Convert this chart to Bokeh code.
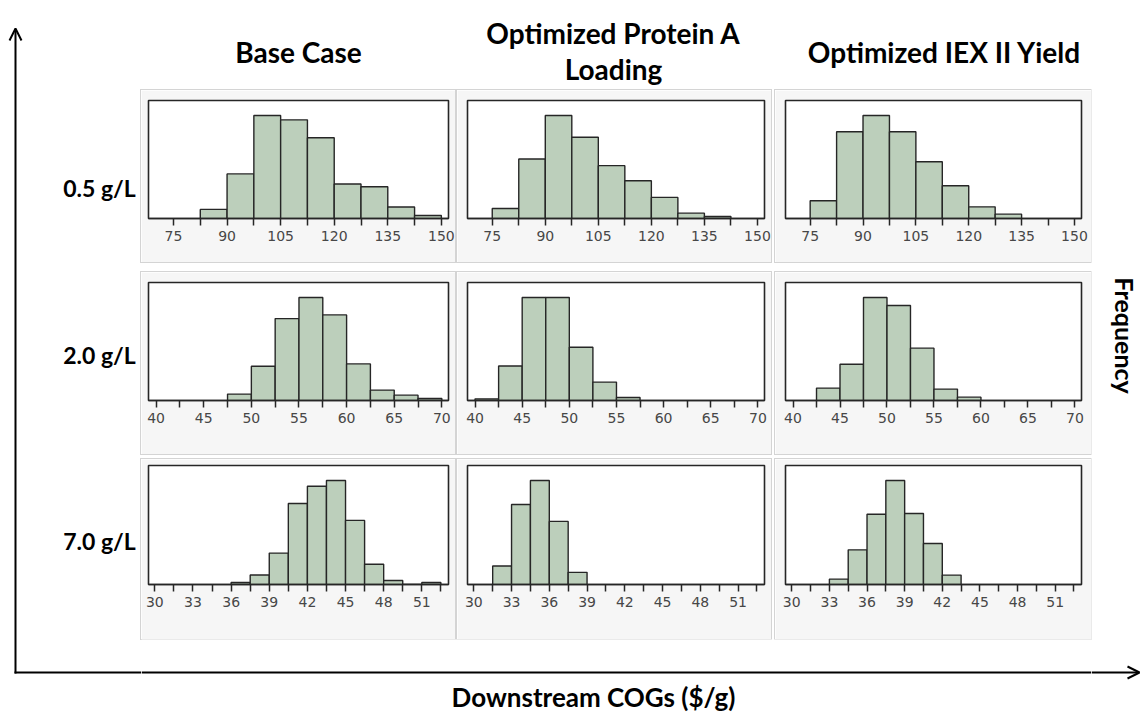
from math import pi
from bokeh.plotting import figure
from bokeh.layouts import row, column, Spacer
from bokeh.models import FixedTicker, Range1d, Arrow, OpenHead
from bokeh.embed import file_html
from bokeh.resources import INLINE
from bokeh.core.properties import value

# ---------------- data ----------------
col_titles = [["Base Case"], ["Optimized Protein A", "Loading"], ["Optimized IEX II Yield"]]
row_labels = ["0.5 g/L", "2.0 g/L", "7.0 g/L"]
x_title = "Downstream COGs ($/g)"
y_title = "Frequency"

bin_width = [7.5, 2.5, 1.5]
x_limits = [(68.0, 152.0), (39.2, 70.7), (29.5, 53.1)]
tick_labels = [
    [75, 90, 105, 120, 135, 150],
    [40, 45, 50, 55, 60, 65, 70],
    [30, 33, 36, 39, 42, 45, 48, 51],
]
minor_ticks = [
    [82.5, 97.5, 112.5, 127.5, 142.5],
    [42.5, 47.5, 52.5, 57.5, 62.5, 67.5],
    [31.5, 34.5, 37.5, 40.5, 43.5, 46.5, 49.5, 52.5],
]

# first bin edge and frequencies (relative) per panel
base_05_start = 82.5
base_05 = [27, 132, 305, 292, 239, 102, 94, 34, 9]
protA_05_start = 75.0
protA_05 = [30, 178, 308, 243, 158, 113, 63, 16, 6]
iex_05_start = 75.0
iex_05 = [53, 260, 309, 260, 170, 98, 35, 13]

base_20_start = 47.5
base_20 = [19, 102, 244, 307, 255, 109, 31, 16, 6]
protA_20_start = 40.0
protA_20 = [5, 103, 308, 308, 159, 55, 9]
iex_20_start = 42.5
iex_20 = [37, 108, 307, 283, 156, 34, 10]

base_70_start = 36.0
base_70 = [6, 28, 93, 240, 291, 308, 190, 60, 12, 0, 6]
protA_70_start = 31.5
protA_70 = [55, 237, 308, 187, 36]
iex_70_start = 33.0
iex_70 = [16, 103, 209, 309, 211, 122, 28]

panels = [
    [(base_05_start, base_05), (protA_05_start, protA_05), (iex_05_start, iex_05)],
    [(base_20_start, base_20), (protA_20_start, protA_20), (iex_20_start, iex_20)],
    [(base_70_start, base_70), (protA_70_start, protA_70), (iex_70_start, iex_70)],
]

# ---------------- layout ----------------
W, H = 1143, 714
LEFT_W, MID_W = 141, 950
RIGHT_W = W - LEFT_W - MID_W
HEADER_H = 90
panel_w = [314, 314, 316]
col_gaps = [2, 4]
panel_h = [172, 182, 180]
row_gaps = [10, 5]
BOTTOM_H = H - HEADER_H - sum(panel_h) - sum(row_gaps)
border_l = [7, 10, 10]
border_r = [7, 7, 10]
border_t = [10, 10, 6]
border_b = [44, 54, 55]

BAR_FILL = "#bccfbb"
DARK = "#262626"
TITLE_FONT = value("Lato")


def blank(w, h, xr, yr):
    p = figure(width=w, height=h, x_range=Range1d(*xr), y_range=Range1d(*yr),
               output_backend="svg", toolbar_location=None,
               x_axis_location=None, y_axis_location=None,
               min_border=0, outline_line_color=None)
    p.grid.visible = False
    p.background_fill_color = "white"
    p.border_fill_color = "white"
    return p


def panel(r, c):
    start, counts = panels[r][c]
    bw = bin_width[r]
    p = figure(width=panel_w[c], height=panel_h[r],
               x_range=Range1d(*x_limits[r]), y_range=Range1d(0, max(counts) * 1.145),
               output_backend="svg", toolbar_location=None, y_axis_location=None,
               min_border_left=border_l[c], min_border_right=border_r[c],
               min_border_top=border_t[r], min_border_bottom=border_b[r],
               styles={"box-shadow": "0 0 0 1px #d4d4d4"})
    p.grid.visible = False
    p.border_fill_color = "#f6f6f6"
    p.background_fill_color = "white"
    p.outline_line_color = DARK
    p.outline_line_width = 1.6
    lefts = [start + i * bw for i in range(len(counts))]
    rights = [l + bw for l in lefts]
    p.quad(left=lefts, right=rights, bottom=0, top=counts,
           fill_color=BAR_FILL, line_color=DARK, line_width=1.4)
    ax = p.xaxis[0]
    ax.ticker = FixedTicker(ticks=tick_labels[r], minor_ticks=minor_ticks[r])
    ax.axis_line_color = DARK
    ax.axis_line_width = 1.6
    ax.major_tick_in = 0
    ax.major_tick_out = 7
    ax.minor_tick_in = 0
    ax.minor_tick_out = 7
    ax.major_tick_line_color = DARK
    ax.minor_tick_line_color = DARK
    ax.major_tick_line_width = 1.5
    ax.minor_tick_line_width = 1.5
    ax.major_label_standoff = 5
    ax.major_label_text_font = "DejaVu Sans"
    ax.major_label_text_font_size = "14px"
    ax.major_label_text_color = "#474747"
    return p


# header with column titles
header = blank(MID_W, HEADER_H, (LEFT_W, LEFT_W + MID_W), (HEADER_H, 0))
title_cx = [298, 613, 944]
for cx, lines in zip(title_cx, col_titles):
    if len(lines) == 1:
        ys = [51]
    else:
        ys = [32, 68]
    header.text(x=[cx] * len(lines), y=ys, text=lines, text_font=TITLE_FONT,
                text_font_style="bold", text_font_size="28px", text_color="black",
                text_align="center", text_baseline="middle")

# left strip: vertical arrow and row labels
left = blank(LEFT_W, H, (0, LEFT_W), (H, 0))
left.add_layout(Arrow(x_start=15, y_start=673, x_end=15, y_end=28,
                      line_color="black", line_width=2,
                      end=OpenHead(size=12, line_color="black", line_width=2)))
left.segment(x0=[14], y0=[672], x1=[LEFT_W], y1=[672], line_color="black", line_width=2)
left.text(x=[99] * 3, y=[187, 354, 540], text=row_labels, text_font=TITLE_FONT,
          text_font_style="bold", text_font_size="23px", text_color="black",
          text_align="center", text_baseline="middle")

# bottom strip: axis line and x title
y0_bottom = H - BOTTOM_H
bottom = blank(MID_W, BOTTOM_H, (LEFT_W, LEFT_W + MID_W), (H, y0_bottom))
bottom.segment(x0=[LEFT_W], y0=[672], x1=[LEFT_W + MID_W], y1=[672], line_color="black", line_width=2)
bottom.text(x=[593], y=[696], text=[x_title], text_font=TITLE_FONT,
            text_font_style="bold", text_font_size="26px", text_color="black",
            text_align="center", text_baseline="middle")

# right strip: arrow head and y title
right = blank(RIGHT_W, H, (LEFT_W + MID_W, W), (H, 0))
right.add_layout(Arrow(x_start=LEFT_W + MID_W, y_start=672, x_end=1139, y_end=672,
                       line_color="black", line_width=2,
                       end=OpenHead(size=12, line_color="black", line_width=2)))
right.text(x=[1124], y=[335], text=[y_title], text_font=TITLE_FONT, angle=-pi / 2,
           text_font_style="bold", text_font_size="25px", text_color="black",
           text_align="center", text_baseline="middle")

rows = []
for r in range(3):
    items = []
    for c in range(3):
        items.append(panel(r, c))
        if c < 2:
            items.append(Spacer(width=col_gaps[c], height=panel_h[r]))
    rows.append(row(*items, spacing=0))

mid_items = [header]
for r in range(3):
    mid_items.append(rows[r])
    if r < 2:
        mid_items.append(Spacer(width=MID_W, height=row_gaps[r]))
mid_items.append(bottom)
middle = column(*mid_items, spacing=0)

layout = row(left, middle, right, spacing=0)

open("out.html", "w").write(file_html(layout, INLINE))
